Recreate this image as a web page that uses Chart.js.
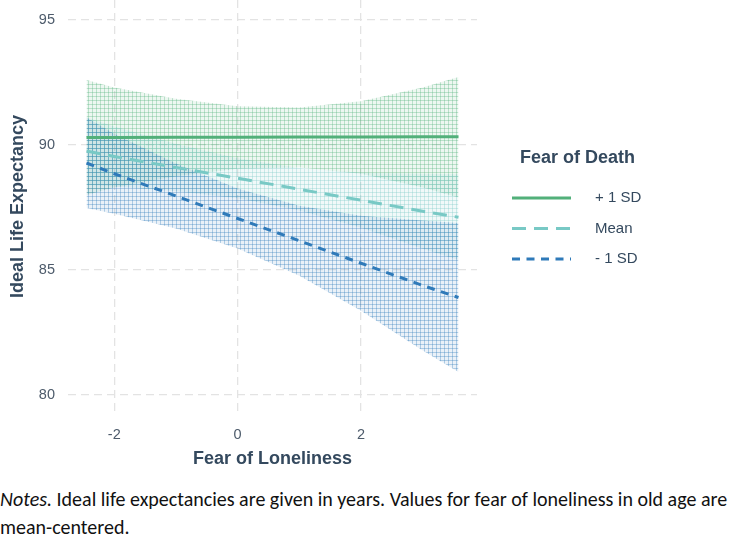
<!DOCTYPE html>
<html>
<head>
<meta charset="utf-8">
<script src="https://cdn.jsdelivr.net/npm/chart.js@4.4.1/dist/chart.umd.min.js"></script>
<style>
  html, body { margin: 0; padding: 0; background: #fff; }
  #wrap { position: relative; width: 749px; height: 470px; }
  #notes {
    font-family: Carlito, "Liberation Sans Narrow", "Open Sans", sans-serif;
    font-size: 20px; line-height: 27.5px; color: #111;
    margin: 16px 0 0 0; width: 749px;
  }
</style>
</head>
<body>
<div id="wrap"><canvas id="myChart" width="749" height="470"></canvas></div>
<div id="notes"><i>Notes.</i> Ideal life expectancies are given in years. Values for fear of loneliness in old age are mean-centered.</div>
<script>
(function () {
    'use strict';

    // fear of loneliness (mean-centered)
    var xs = [-2.45, -2, -1, 0, 1, 2, 3, 3.58];

    // predicted ideal life expectancy per level of fear of death
    var plusLine  = [90.30, 90.30, 90.31, 90.31, 90.32, 90.32, 90.33, 90.33];
    var plusUpper = [92.60, 92.30, 91.85, 91.55, 91.50, 91.75, 92.30, 92.72];
    var plusLower = [88.00, 88.30, 88.75, 89.05, 89.10, 88.85, 88.30, 87.90];

    var meanLine  = [89.76, 89.54, 89.10, 88.67, 88.23, 87.79, 87.35, 87.11];
    var meanUpper = [91.11, 90.74, 90.05, 89.47, 89.08, 88.89, 88.85, 88.83];
    var meanLower = [88.41, 88.34, 88.15, 87.87, 87.38, 86.69, 85.85, 85.40];

    var minusLine  = [89.28, 88.85, 87.96, 87.06, 86.17, 85.27, 84.38, 83.90];
    var minusUpper = [91.10, 90.45, 89.26, 88.26, 87.57, 87.17, 86.98, 86.88];
    var minusLower = [87.48, 87.25, 86.66, 85.86, 84.77, 83.37, 81.78, 80.92];

    var xTicks = [-2, 0, 2];
    var yTicks = [80, 85, 90, 95];

    var labels = ['+ 1 SD', 'Mean', '- 1 SD'];
    var colors = ['#52b07a', '#78c9c5', '#2f7ab9'];
    var dashes = [[], [14, 8], [8, 6.5]];

    var titleColor = '#34495e';
    var tickColor = '#4d5b6b';
    var gridColor = '#e3e3e3';
    var fontFam = '"Liberation Sans", Arial, sans-serif';

    function pts(ys) {
        return xs.map(function (x, i) { return { x: x, y: ys[i] }; });
    }

    // stippled grid pattern like the ribbons in the picture
    function hatch(color) {
        var c = document.createElement('canvas');
        c.width = 4; c.height = 4;
        var g = c.getContext('2d');
        g.globalAlpha = 0.1;
        g.fillStyle = color;
        g.fillRect(0, 0, 4, 4);
        g.globalAlpha = 0.33;
        g.fillRect(0, 0, 4, 1);
        g.fillRect(0, 0, 1, 4);
        return g.createPattern(c, 'repeat');
    }

    var ctx = document.getElementById('myChart').getContext('2d');

    var bands = [[plusUpper, plusLower], [meanUpper, meanLower], [minusUpper, minusLower]];
    var lines = [plusLine, meanLine, minusLine];
    var datasets = [];

    bands.forEach(function (b, i) {
        datasets.push({
            label: labels[i] + ' upper',
            data: pts(b[0]),
            borderWidth: 0, pointRadius: 0,
            fill: '+1',
            backgroundColor: hatch(colors[i]),
            order: 10 - i
        });
        datasets.push({
            label: labels[i] + ' lower',
            data: pts(b[1]),
            borderWidth: 0, pointRadius: 0,
            fill: false,
            order: 10 - i
        });
    });
    lines.forEach(function (l, i) {
        datasets.push({
            label: labels[i],
            data: pts(l),
            borderColor: colors[i],
            borderWidth: 3,
            borderDash: dashes[i],
            pointRadius: 0,
            fill: false,
            order: 3 - i
        });
    });

    // legend drawn to the right of the plot
    var sideLegend = {
        id: 'sideLegend',
        afterDraw: function (chart) {
            var c = chart.ctx;
            c.save();
            c.fillStyle = titleColor;
            c.font = 'bold 18px ' + fontFam;
            c.textAlign = 'left';
            c.textBaseline = 'middle';
            c.fillText('Fear of Death', 520, 158);
            c.font = '15px ' + fontFam;
            labels.forEach(function (lab, i) {
                var y = 198 + i * 30.5;
                c.strokeStyle = colors[i];
                c.lineWidth = 3;
                c.setLineDash(dashes[i]);
                c.beginPath();
                c.moveTo(512, y);
                c.lineTo(571, y);
                c.stroke();
                c.setLineDash([]);
                c.fillStyle = titleColor;
                c.fillText(lab, 595, y);
            });
            c.restore();
        }
    };

    new Chart(ctx, {
        type: 'line',
        data: { datasets: datasets },
        plugins: [sideLegend],
        options: {
            responsive: false,
            animation: false,
            layout: { padding: { left: 0, right: 272, top: 0, bottom: 0 } },
            plugins: {
                legend: { display: false },
                tooltip: { enabled: false },
                filler: { propagate: false }
            },
            scales: {
                x: {
                    type: 'linear',
                    min: -2.75, max: 3.88,
                    afterBuildTicks: function (s) { s.ticks = xTicks.map(function (v) { return { value: v }; }); },
                    afterFit: function (s) { s.height = 57; s.paddingLeft = 0; s.paddingRight = 0; },
                    border: { display: false, dash: [8, 5] },
                    grid: { color: gridColor, lineWidth: 1.3, drawTicks: false },
                    ticks: { color: tickColor, font: { size: 14.5, family: fontFam }, padding: 13 },
                    title: {
                        display: true, text: 'Fear of Loneliness', color: titleColor,
                        font: { size: 18, weight: 'bold', family: fontFam },
                        padding: { top: 4, bottom: 0 }
                    }
                },
                y: {
                    min: 79.28, max: 95.8,
                    afterBuildTicks: function (s) { s.ticks = yTicks.map(function (v) { return { value: v }; }); },
                    afterFit: function (s) { s.width = 68; s.paddingTop = 0; s.paddingBottom = 0; },
                    border: { display: false, dash: [8, 5] },
                    grid: { color: gridColor, lineWidth: 1.3, drawTicks: false },
                    ticks: { color: tickColor, font: { size: 14.5, family: fontFam }, padding: 13 },
                    title: {
                        display: true, text: 'Ideal Life Expectancy', color: titleColor,
                        font: { size: 18, weight: 'bold', family: fontFam },
                        padding: { top: 7, bottom: 0 }
                    }
                }
            }
        }
    });
})();
</script>
</body>
</html>
